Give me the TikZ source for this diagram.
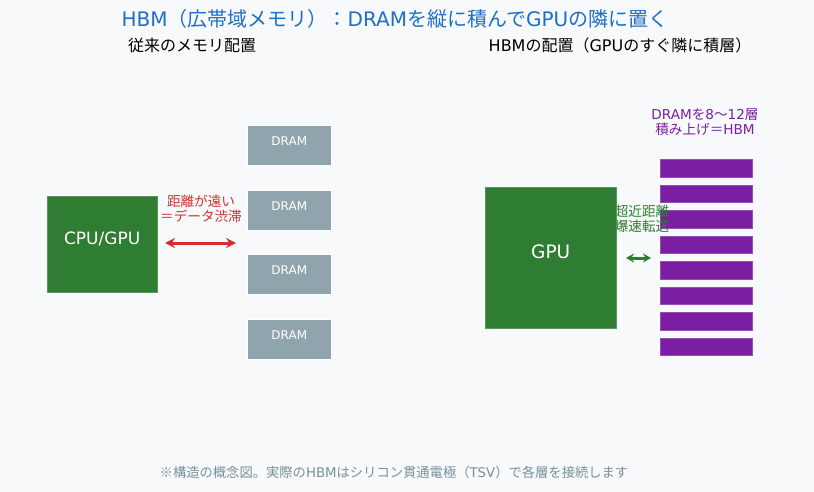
\documentclass[tikz,border=0pt]{standalone}
\usepackage{fontspec}
\setmainfont{Noto Sans CJK JP}
\newfontfamily\lt{DejaVu Sans}
\usetikzlibrary{arrows.meta}
\definecolor{bg}{HTML}{F8F9FA}
\definecolor{ttl}{HTML}{1E6FC8}
\definecolor{grn}{HTML}{2E7D32}
\definecolor{drm}{HTML}{90A4AE}
\definecolor{prp}{HTML}{7B1FA2}
\definecolor{red}{HTML}{D32F2F}
\definecolor{note}{HTML}{78909C}

\begin{document}
\begin{tikzpicture}[x=1pt,y=-1pt,>={Stealth[length=10pt,width=10pt]},
  chip/.style={fill=grn,anchor=north west,inner sep=0pt,draw=grn!80!white,line width=0.4pt},
  dram/.style={fill=drm,anchor=north west,inner sep=0pt,draw=white,line width=0.6pt,
    minimum width=84pt,minimum height=40pt,
    label={[text=white,yshift=4pt,font=\lt\fontsize{12}{14}\selectfont]center:DRAM}},
  layer/.style={fill=prp,draw=prp!80!white,line width=0.5pt,anchor=north west,inner sep=0pt,
    minimum width=92pt,minimum height=17.5pt},
  lbl/.style={align=center,inner sep=0pt,font=\fontsize{13.6}{15}\selectfont}]
  \fill[bg] (0,0) rectangle (814,492);
  \useasboundingbox (0,0) rectangle (814,492);
  % titles
  \node[text=ttl,font=\fontsize{20}{22}\selectfont](title) at (395,19){{\lt HBM}（広帯域メモリ）：{\lt DRAM}を縦に積んで{\lt GPU}の隣に置く};
  \node[font=\fontsize{16}{18}\selectfont](lhead) at (192,45){従来のメモリ配置};
  \node[font=\fontsize{16}{18}\selectfont](rhead) at (620,45){{\lt HBM}の配置（{\lt GPU}のすぐ隣に積層）};
  % conventional side
  \node[chip,minimum width=110pt,minimum height=96pt,
    label={[text=white,yshift=5pt,font=\lt\fontsize{17}{20}\selectfont]center:CPU/GPU}](cpu) at (47,196){};
  \foreach \i/\y in {1/125,2/190,3/254,4/319}
    \node[dram](dram\i) at (247,\y){};
  \node[lbl,text=red](far) at (201,208.5){距離が遠い\\＝データ渋滞};
  \coordinate (fa) at (165,243);
  \coordinate (fb) at (236,243);
  \draw[<->,red,line width=3pt](fa)--(fb);
  % HBM side
  \foreach \i/\y in {1/159,2/184.5,3/210,4/235.5,5/261,6/286.5,7/312,8/337.5}
    \node[layer](hbm\i) at (660,\y){};
  \node[lbl,text=prp](stack) at (705,122){{\lt DRAM}を{\lt 8}〜{\lt 12}層\\積み上げ＝{\lt HBM}};
  \node[lbl,text=grn](near) at (642,218.5){超近距離\\爆速転送};
  \node[chip,minimum width=131pt,minimum height=141pt,
    label={[text=white,yshift=6pt,font=\lt\fontsize{18.5}{21}\selectfont]center:GPU}](gpu) at (485,187){};
  \coordinate (na) at (626,258);
  \coordinate (nb) at (651,258);
  \draw[<->,grn,line width=3pt,>={Stealth[length=8pt,width=9pt]}](na)--(nb);
  % footnote
  \node[text=note,font=\fontsize{13.3}{15}\selectfont](fn) at (394,472){※構造の概念図。実際の{\lt HBM}はシリコン貫通電極（{\lt TSV}）で各層を接続します};
\end{tikzpicture}
\end{document}
